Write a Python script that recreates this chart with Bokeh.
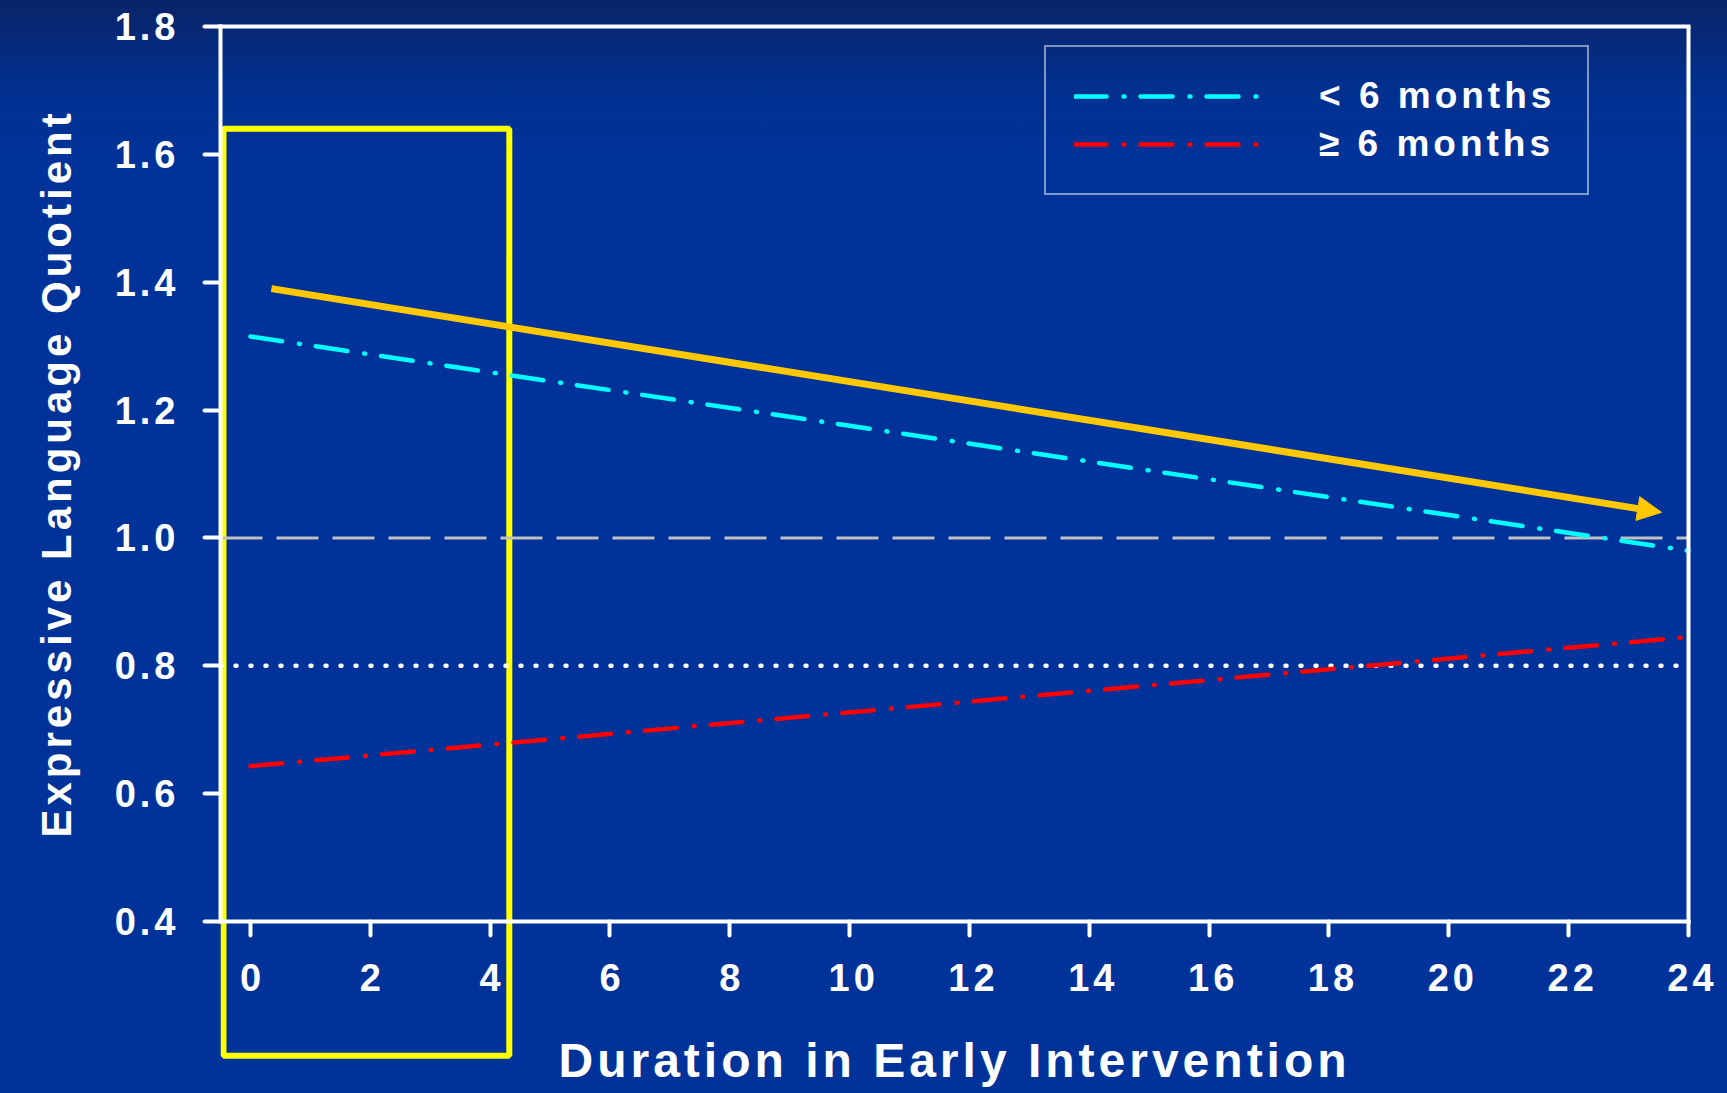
from bokeh.plotting import figure
from bokeh.models import (BoxAnnotation, Arrow, NormalHead, Legend, LegendItem,
                          FixedTicker, PrintfTickFormatter, Range1d, Title, Label,
                          LinearAxis)
from bokeh.core.properties import value
from bokeh.embed import file_html
from bokeh.resources import INLINE

# ---- data ----
duration_months = [0, 24]
elq_under_6 = [1.315, 0.98]
elq_6_plus = [0.643, 0.845]
series_names = ["< 6 months", "\u2265 6 months"]
x_tick_values = [0, 2, 4, 6, 8, 10, 12, 14, 16, 18, 20, 22, 24]
y_tick_values = [0.4, 0.6, 0.8, 1.0, 1.2, 1.4, 1.6, 1.8]
x_title = "Duration in Early Intervention"
y_title = "Expressive Language Quotient"
reference_levels = [1.0, 0.8]
trend_arrow_x = [0.35, 23.55]
trend_arrow_y = [1.39, 1.04]
highlight_x = [-0.45, 4.32]
highlight_y = [0.19, 1.64]

FONT = "Liberation Sans"
GOLD = "#FFC800"
BG = "linear-gradient(to bottom, #0a2468 0%, #01308f 8%, #003399 14%, #003399 100%)"
SPACING = 4  # letter spacing (px) of the slide's text

W, H = 1727, 1093
LEFT, TOP = 220, 26
AXIS_PX = 921            # pixel row of the x axis (value 0.4)
RIGHT_PX = 1688          # pixel column of the right frame line (value 24)
X0, X1 = -0.5, x_tick_values[-1]
Y0, Y1 = y_tick_values[0], y_tick_values[-1]
# the frame runs to the bottom and right edges of the page so nothing is clipped;
# the chart's own box is drawn with axes bounded to [X0, X1] x [Y0, Y1]
y_start = Y1 - (Y1 - Y0) * (H - TOP) / (AXIS_PX - TOP)
x_end = X0 + (X1 - X0) * (W - LEFT) / (RIGHT_PX - LEFT)

p = figure(width=W, height=H, output_backend="svg", toolbar_location=None,
           x_range=Range1d(X0, x_end), y_range=Range1d(y_start, Y1),
           x_axis_location=None, y_axis_location=None,
           min_border_left=LEFT, min_border_right=0, min_border_top=TOP,
           min_border_bottom=0,
           background_fill_color=None, border_fill_color=None,
           outline_line_color=None,
           styles={"background": BG, "letter-spacing": f"{SPACING}px"})

p.xgrid.visible = False
p.ygrid.visible = False


def style_axis(ax, tick_out, standoff):
    ax.axis_line_color = "white"
    ax.axis_line_width = 4
    ax.axis_line_cap = "square"
    ax.major_tick_line_color = "white"
    ax.major_tick_line_width = 4
    ax.major_tick_line_cap = "round"
    ax.major_tick_in = 0
    ax.major_tick_out = tick_out
    ax.minor_tick_line_color = None
    ax.major_label_text_color = "white"
    ax.major_label_text_font = FONT
    ax.major_label_text_font_style = "bold"
    ax.major_label_text_font_size = "38px"
    ax.major_label_standoff = standoff


xaxis = LinearAxis(ticker=FixedTicker(ticks=x_tick_values), fixed_location=Y0,
                   bounds=(X0, X1))
style_axis(xaxis, 14, 28)
p.add_layout(xaxis, "below")

yaxis = LinearAxis(ticker=FixedTicker(ticks=y_tick_values),
                   formatter=PrintfTickFormatter(format="%.1f"), bounds=(Y0, Y1))
style_axis(yaxis, 16, 37)
p.add_layout(yaxis, "left")

# frame lines on top and right
top_axis = LinearAxis(ticker=FixedTicker(ticks=[]), bounds=(X0, X1))
style_axis(top_axis, 0, 0)
top_axis.major_label_text_font_size = "0px"
p.add_layout(top_axis, "above")
right_axis = LinearAxis(ticker=FixedTicker(ticks=[]), bounds=(Y0, Y1), fixed_location=X1)
style_axis(right_axis, 0, 0)
right_axis.major_label_text_font_size = "0px"
p.add_layout(right_axis, "right")

# axis titles
p.add_layout(Title(text=y_title, align="left", vertical_align="top", offset=H - 837,
                   text_color="white", text_font=FONT, text_font_style="bold",
                   text_font_size="42px", standoff=60), "left")
p.add_layout(Label(text=x_title, x=338, y=33, x_units="screen", y_units="screen",
                   text_align="left", text_baseline="alphabetic",
                   text_color="white", text_font=FONT, text_font_style="bold",
                   text_font_size="48px"))

# highlight box (under the data lines and axes)
p.add_layout(BoxAnnotation(left=highlight_x[0], right=highlight_x[1],
                           bottom=highlight_y[0], top=highlight_y[1],
                           fill_alpha=0, line_color="#FFFF00", line_alpha=1.0,
                           line_width=6, level="underlay"))

# reference lines across the chart box
p.segment(x0=X0, x1=X1, y0=reference_levels[0], y1=reference_levels[0],
          line_color="#C0C0C0", line_width=3, line_dash="42 14")
p.segment(x0=X0, x1=X1, y0=reference_levels[1], y1=reference_levels[1],
          line_color="white", line_width=4.5, line_dash="1 14", line_cap="round")

r1 = p.line(duration_months, elq_under_6, line_color="#00FFFF", line_width=4.5,
            line_dash="32 17 1 16", line_cap="round")
r2 = p.line(duration_months, elq_6_plus, line_color="#FF0000", line_width=4.5,
            line_dash="32 17 1 16", line_cap="round")

p.add_layout(Arrow(end=NormalHead(size=24, fill_color=GOLD, line_color=GOLD),
                   x_start=trend_arrow_x[0], y_start=trend_arrow_y[0],
                   x_end=trend_arrow_x[1], y_end=trend_arrow_y[1],
                   line_color=GOLD, line_width=7))

legend = Legend(items=[LegendItem(label=value(series_names[0]), renderers=[r1]),
                       LegendItem(label=value(series_names[1]), renderers=[r2])],
                location=(824, H - 195), orientation="vertical",
                border_line_color="white", border_line_width=2.5,
                background_fill_alpha=0,
                label_text_color="white", label_text_font=FONT,
                label_text_font_style="bold", label_text_font_size="37px",
                glyph_width=185, glyph_height=40, label_standoff=60,
                label_width=240, label_height=40, spacing=6, padding=28, margin=0)
p.add_layout(legend)

open("out.html", "w").write(file_html(p, INLINE))
